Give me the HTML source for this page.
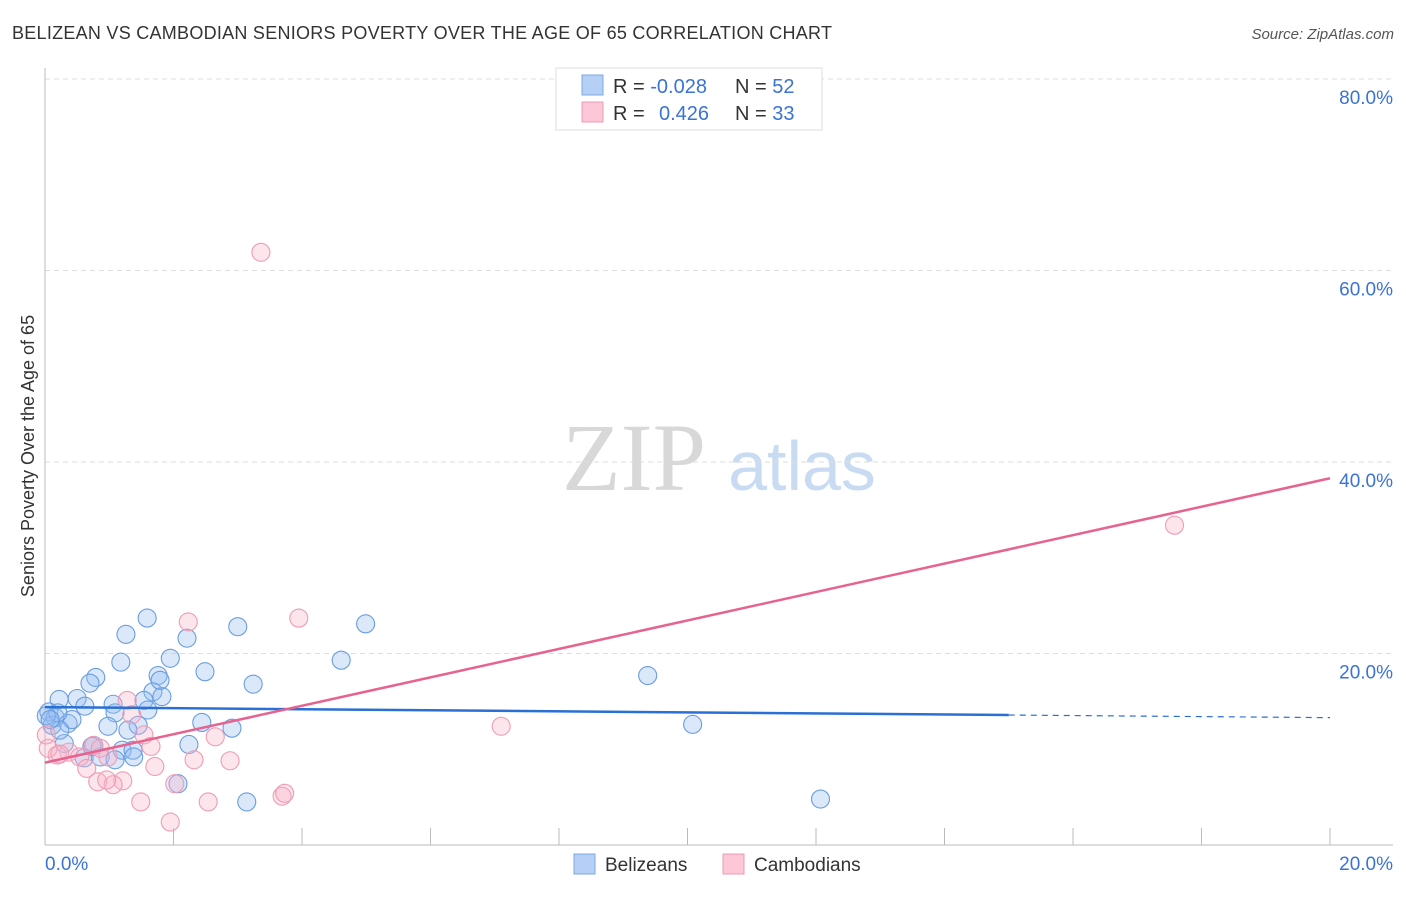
<!DOCTYPE html>
<html><head><meta charset="utf-8"><style>
body{margin:0;background:#fff;font-family:"Liberation Sans",sans-serif;}
</style></head><body>
<svg id="chart" width="1406" height="892" xmlns="http://www.w3.org/2000/svg" style="font-family:'Liberation Sans',sans-serif">
<text x="12" y="39" font-size="18" fill="#333" textLength="820">BELIZEAN VS CAMBODIAN SENIORS POVERTY OVER THE AGE OF 65 CORRELATION CHART</text>
<text x="1394" y="39" font-size="15" fill="#555" font-style="italic" text-anchor="end">Source: ZipAtlas.com</text>
<text x="634" y="490" font-size="96" fill="#d8d8d8" font-family="'Liberation Serif',serif" text-anchor="middle">ZIP</text>
<text x="802" y="490" font-size="70" fill="#c9dbf2" text-anchor="middle">atlas</text>
<g id="grid"></g>
<g id="axes"></g>
<g id="marks"></g>
<text x="34" y="456" font-size="18" fill="#333" text-anchor="middle" transform="rotate(-90 34 456)">Seniors Poverty Over the Age of 65</text>
<g>
<rect x="556" y="68" width="266" height="62" fill="#fff" stroke="#ddd"/>
<rect x="582" y="75" width="21" height="20" fill="#b5d0f4" stroke="#7ea9e4"/>
<rect x="582" y="102" width="21" height="20" fill="#fcc7d6" stroke="#f09ab4"/>
<text x="613" y="93" font-size="20" fill="#333">R = <tspan fill="#3b73d4">-0.028</tspan><tspan x="735">N = </tspan><tspan fill="#3b73d4">52</tspan></text>
<text x="613" y="120" font-size="20" fill="#333">R = <tspan x="659" fill="#3b73d4">0.426</tspan><tspan x="735">N = </tspan><tspan fill="#3b73d4">33</tspan></text>
</g>
<g>
<rect x="574" y="854" width="21" height="20" fill="#b5d0f4" stroke="#7ea9e4"/>
<text x="605" y="871" font-size="19" fill="#333">Belizeans</text>
<rect x="723" y="854" width="21" height="20" fill="#fcc7d6" stroke="#f09ab4"/>
<text x="754" y="871" font-size="19" fill="#333">Cambodians</text>
</g>
</svg>
<script>
const yTicks=[20,40,60,80];
const xTickLabels=["0.0%","20.0%"];
const blueX=[1.59,1.26,2.21,3.00,4.99,1.18,1.95,4.61,0.79,1.76,2.49,3.24,9.38,0.70,1.68,1.82,0.22,0.50,0.62,1.06,1.54,0.06,0.16,0.11,0.36,0.42,1.09,2.44,2.91,0.98,1.45,1.29,10.08,0.30,0.76,1.20,2.24,1.37,0.61,0.86,1.38,1.09,2.07,3.14,12.07,0.20,0.02,0.23,0.73,1.79,1.60,0.08];
const blueY=[23.7,22.0,21.6,22.8,23.1,19.1,19.5,19.3,17.5,17.7,18.1,16.8,17.7,16.9,16.0,15.5,15.2,15.3,14.5,14.7,15.1,13.9,13.3,12.5,12.7,13.1,13.8,12.8,12.2,12.4,12.5,12.0,12.6,10.6,10.4,9.9,10.5,9.9,9.1,9.2,9.2,8.9,6.4,4.5,4.8,13.8,13.5,12.0,10.3,17.2,14.1,13.1];
const pinkX=[3.36,17.58,2.23,3.95,1.28,1.35,1.54,2.65,7.10,1.65,0.75,0.37,0.19,0.05,0.54,0.98,2.88,2.32,1.71,0.65,1.21,0.82,1.06,0.96,2.02,1.49,2.54,3.69,3.73,1.95,0.02,0.23,0.86];
const pinkY=[61.9,33.4,23.3,23.7,15.1,13.6,11.5,11.3,12.4,10.3,10.4,9.7,9.4,10.1,9.2,9.2,8.8,8.9,8.2,8.0,6.7,6.6,6.3,6.8,6.4,4.5,4.5,5.1,5.4,2.4,11.5,9.5,10.1];
const blueTrend=[14.4,13.3]; // y at x=0 and x=20
const pinkTrend=[8.6,38.3];
const blueSolidEnd=15.0;

const NS="http://www.w3.org/2000/svg";
const X=v=>45+v/20*1285;
const Y=v=>845-v/20*191.5;
function mk(tag,attrs,parent){const e=document.createElementNS(NS,tag);for(const k in attrs)e.setAttribute(k,attrs[k]);document.getElementById(parent).appendChild(e);return e;}

yTicks.forEach(t=>{
  const l=mk('line',{x1:45,x2:1393,y1:Y(t),y2:Y(t),stroke:'#ddd','stroke-dasharray':'5,4'},'grid');
  
  
  const tx=mk('text',{x:1393,y:Y(t)+25,'font-size':19,fill:'#3b73d4','text-anchor':'end'},'grid');
  tx.textContent=t.toFixed(1)+'%';
  
  
});
let ax=mk('line',{x1:45,x2:45,y1:68,y2:845,stroke:'#bbb'},'axes');


ax=mk('line',{x1:45,x2:1393,y1:845,y2:845,stroke:'#bbb'},'axes');


for(let i=1;i<=10;i++){
  const t=mk('line',{x1:X(i*2),x2:X(i*2),y1:828,y2:845,stroke:'#bbb'},'axes');
  
  
}
[[0,'start',45],[20,'end',1393]].forEach((d,i)=>{
  const t=mk('text',{x:d[2],y:870,'font-size':19,fill:'#3b73d4','text-anchor':d[1]},'axes');
  t.textContent=xTickLabels[i];
  
  
});
blueX.forEach((v,i)=>{
  const c=mk('circle',{cx:X(v),cy:Y(blueY[i]),r:9,fill:'rgba(150,190,240,0.35)',stroke:'#6a9de0','stroke-width':1.1},'marks');
  
  
});
pinkX.forEach((v,i)=>{
  const c=mk('circle',{cx:X(v),cy:Y(pinkY[i]),r:9,fill:'rgba(248,180,200,0.35)',stroke:'#ee9cb5','stroke-width':1.1},'marks');
  
  
});
const by=x=>blueTrend[0]+(blueTrend[1]-blueTrend[0])*x/20;
let l=mk('line',{x1:X(0),y1:Y(by(0)),x2:X(blueSolidEnd),y2:Y(by(blueSolidEnd)),stroke:'#2a6fd4','stroke-width':2.5},'marks');


l=mk('line',{x1:X(blueSolidEnd),y1:Y(by(blueSolidEnd)),x2:X(20),y2:Y(by(20)),stroke:'#2a6fd4','stroke-width':1.2,'stroke-dasharray':'6,5'},'marks');


l=mk('line',{x1:X(0),y1:Y(pinkTrend[0]),x2:X(20),y2:Y(pinkTrend[1]),stroke:'#e8628f','stroke-width':2.5},'marks');


</script>
</body></html>
